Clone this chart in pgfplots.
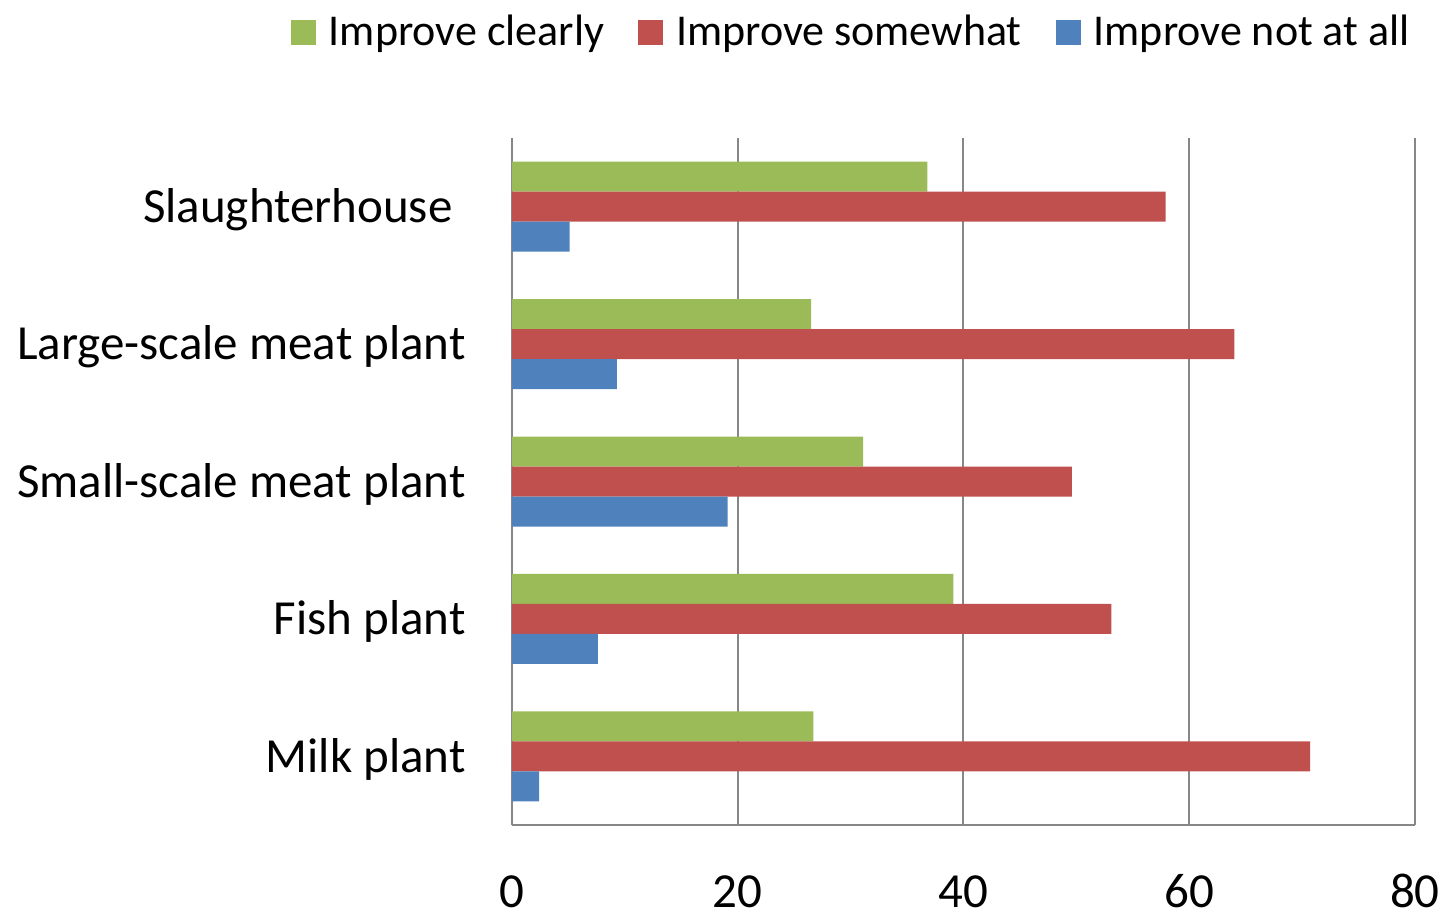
\documentclass[border=0pt]{standalone}
\usepackage{fontspec}
\setmainfont{Carlito}
\usepackage{pgfplots}
\pgfplotsset{compat=1.18}
\definecolor{clearly}{HTML}{9BBB59}
\definecolor{somewhat}{HTML}{C0504D}
\definecolor{notatall}{HTML}{4F81BD}
\definecolor{gridgray}{HTML}{878787}

\begin{document}
\begin{tikzpicture}
\begin{axis}[
    scale only axis,
    width=451.5pt, height=343.5pt,
    xbar, bar width=15pt,
    xmin=0, xmax=80, ymin=-0.5, ymax=4.5,
    xtick={0,20,...,80},
    ytick={0,1,2,3,4},
    yticklabels={Milk plant, Fish plant, Small-scale meat plant, Large-scale meat plant, Slaughterhouse\rule{6.5pt}{0pt}},
    axis x line*=bottom, axis y line*=left,
    axis line style={-, draw=gridgray, line width=1pt},
    xmajorgrids, grid style={gridgray, line width=1pt},
    major tick length=0pt,
    ticklabel style={font=\fontsize{24.5}{29}\selectfont},
    /pgf/number format/assume math mode=true,
    xticklabel style={anchor=base, inner sep=0pt, yshift=-41pt},
    yticklabel style={anchor=base east, inner sep=0pt, xshift=-23pt, yshift=-7.9pt},
    legend columns=3,
    legend image code/.code={\fill[#1] (0pt,-6.5pt) rectangle (12.5pt,6pt);},
    legend style={at={(rel axis cs:1,1)}, anchor=south east, xshift=-2.5pt, yshift=44.5pt,
        draw=none, fill=none, inner sep=0pt, nodes={inner sep=0pt},
        font=\fontsize{22}{26}\selectfont,
        /tikz/every odd column/.append style={column sep=6.5pt},
        /tikz/every even column/.append style={column sep=17pt}},
]
\addplot[fill=clearly, draw=none, bar shift=15pt] coordinates {
    (26.7,0) (39.1,1) (31.1,2) (26.5,3) (36.8,4)};
\addplot[fill=somewhat, draw=none, bar shift=0pt] coordinates {
    (70.7,0) (53.1,1) (49.6,2) (64.0,3) (57.9,4)};
\addplot[fill=notatall, draw=none, bar shift=-15pt] coordinates {
    (2.4,0) (7.6,1) (19.1,2) (9.3,3) (5.1,4)};
\legend{Improve clearly, Improve somewhat, Improve not at all}
\end{axis}
\pgfresetboundingbox
\path (-256pt,-45.5pt) rectangle (468.5pt,412.5pt);
\end{tikzpicture}
\end{document}
